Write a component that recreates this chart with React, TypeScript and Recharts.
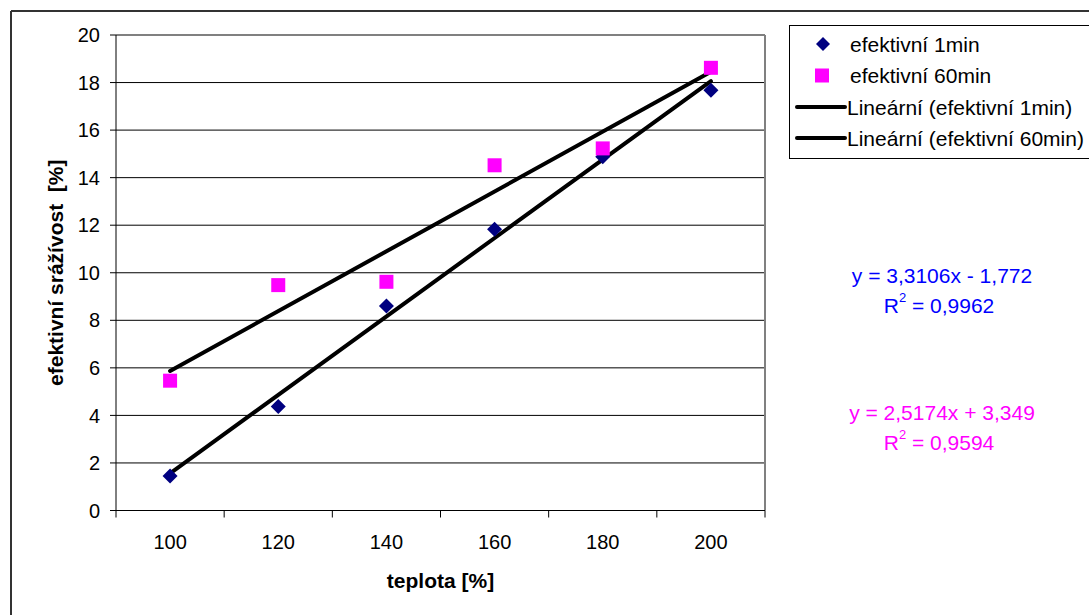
import React from 'react';
import { ComposedChart, Line, XAxis, YAxis, CartesianGrid, ReferenceLine, Legend } from 'recharts';

const CATEGORIES = [100, 120, 140, 160, 180, 200];
const EFF_1MIN = [1.45, 4.37, 8.6, 11.83, 14.88, 17.68];
const EFF_60MIN = [5.46, 9.48, 9.62, 14.52, 15.23, 18.62];
// trend line values read at first and last category
const TREND_1MIN_ENDS = [1.56, 18.06];
const TREND_60MIN_ENDS = [5.87, 18.45];
const Y_TICKS = [0, 2, 4, 6, 8, 10, 12, 14, 16, 18, 20];
const X_DIVIDERS = [90, 110, 130, 150, 170, 190, 210];
const SERIES_NAMES = ['efektivní 1min', 'efektivní 60min', 'Lineární (efektivní 1min)', 'Lineární (efektivní 60min)'];
const EQ_1MIN = ['y = 3,3106x - 1,772', '0,9962'];
const EQ_60MIN = ['y = 2,5174x + 3,349', '0,9594'];
const X_TITLE = 'teplota [%]';
const Y_TITLE = 'efektivní srážívost  [%]';

const FONT = "'Liberation Sans', Arial, sans-serif";
const NAVY = '#000080';
const MAGENTA = '#FF00FF';
const BLUE = '#0000FF';
const TICK_MARGIN = 24;

const data = CATEGORIES.map((t, i) => ({ t, e1: EFF_1MIN[i], e60: EFF_60MIN[i] }));
const trend1 = [
  { t: CATEGORIES[0], v: TREND_1MIN_ENDS[0] },
  { t: CATEGORIES[CATEGORIES.length - 1], v: TREND_1MIN_ENDS[1] },
];
const trend60 = [
  { t: CATEGORIES[0], v: TREND_60MIN_ENDS[0] },
  { t: CATEGORIES[CATEGORIES.length - 1], v: TREND_60MIN_ENDS[1] },
];
const X_ALL_TICKS = [...X_DIVIDERS, ...CATEGORIES].sort((a, b) => a - b);

const Diamond = (p: any) => {
  const { cx, cy, index } = p;
  if (cx == null || cy == null) return <g key={index} />;
  const h = 7.5;
  return (
    <polygon
      key={index}
      points={`${cx},${cy - h} ${cx + h},${cy} ${cx},${cy + h} ${cx - h},${cy}`}
      fill={NAVY}
    />
  );
};

const Square = (p: any) => {
  const { cx, cy, index } = p;
  if (cx == null || cy == null) return <g key={index} />;
  return <rect key={index} x={cx - 7} y={cy - 7} width={14} height={14} fill={MAGENTA} />;
};

const XTick = (p: any) => {
  const { x, y, payload } = p;
  const v = payload.value;
  if (X_DIVIDERS.includes(v)) {
    const top = y - TICK_MARGIN;
    return <line x1={x} x2={x} y1={top} y2={top + 7} stroke="#000" strokeWidth={1} />;
  }
  return (
    <text x={x} y={y} dy="0.71em" textAnchor="middle" fontSize={20} fill="#000" fontFamily={FONT}>
      {v}
    </text>
  );
};

const renderLegend = () => {
  const rows = [19, 50.5, 82, 113];
  const fs = 21;
  return (
    <svg width={330} height={134} style={{ display: 'block', fontFamily: FONT }}>
      <rect x={0.5} y={0.5} width={340} height={133} fill="#fff" stroke="#000" strokeWidth={1} />
      <polygon points={`34,${rows[0] - 7} 41,${rows[0]} 34,${rows[0] + 7} 27,${rows[0]}`} fill={NAVY} />
      <text x={61} y={rows[0]} dominantBaseline="central" fontSize={fs} fill="#000">{SERIES_NAMES[0]}</text>
      <rect x={26} y={rows[1] - 7} width={14} height={14} fill={MAGENTA} />
      <text x={61} y={rows[1]} dominantBaseline="central" fontSize={fs} fill="#000">{SERIES_NAMES[1]}</text>
      <line x1={8} x2={56} y1={rows[2]} y2={rows[2]} stroke="#000" strokeWidth={4} strokeLinecap="round" />
      <text x={58} y={rows[2]} dominantBaseline="central" fontSize={fs} fill="#000">{SERIES_NAMES[2]}</text>
      <line x1={8} x2={56} y1={rows[3]} y2={rows[3]} stroke="#000" strokeWidth={4} strokeLinecap="round" />
      <text x={58} y={rows[3]} dominantBaseline="central" fontSize={fs} fill="#000">{SERIES_NAMES[3]}</text>
    </svg>
  );
};

const XTitle = (props: any) => {
  const vb = props.viewBox || { x: 116, y: 510, width: 649, height: 40 };
  return (
    <text
      x={vb.x + vb.width / 2}
      y={580}
      textAnchor="middle"
      dominantBaseline="central"
      fontSize={21}
      fontWeight="bold"
      fill="#000"
      fontFamily={FONT}
    >
      {X_TITLE}
    </text>
  );
};

const YTitle = (props: any) => {
  const vb = props.viewBox || { x: 56, y: 35, width: 60, height: 475 };
  const cx = 55;
  const cy = vb.y + vb.height / 2;
  return (
    <text
      x={cx}
      y={cy}
      transform={`rotate(-90, ${cx}, ${cy})`}
      textAnchor="middle"
      dominantBaseline="central"
      fontSize={21}
      fontWeight="bold"
      fill="#000"
      fontFamily={FONT}
      style={{ whiteSpace: 'pre' }}
    >
      {Y_TITLE}
    </text>
  );
};

const Equation = ({ lines, color, y }: { lines: string[]; color: string; y: number }) => (
  <g fontFamily={FONT} fontSize={21} fill={color}>
    <text x={942} y={y} textAnchor="middle" dominantBaseline="central">{lines[0]}</text>
    <text x={939} y={y + 30} textAnchor="middle" dominantBaseline="central">
      <tspan>R</tspan>
      <tspan dy={-8} fontSize={13}>2</tspan>
      <tspan dy={8}>{' = ' + lines[1]}</tspan>
    </text>
  </g>
);

export default function App() {
  return (
    <div
      style={{
        position: 'absolute',
        left: 0,
        top: 0,
        width: 1089,
        height: 615,
        overflow: 'hidden',
        background: '#fff',
        fontFamily: FONT,
      }}
    >
      <ComposedChart
        width={1089}
        height={615}
        data={data}
        margin={{ top: 35, right: 324, bottom: 64.5, left: 56 }}
      >
        <CartesianGrid vertical={false} stroke="#000" strokeWidth={1} />
        <XAxis
          type="number"
          dataKey="t"
          domain={[90, 210]}
          ticks={X_ALL_TICKS}
          interval={0}
          tickLine={false}
          axisLine={{ stroke: '#000' }}
          tickSize={0}
          tickMargin={TICK_MARGIN}
          tick={<XTick />}
          height={40}
          allowDataOverflow
          label={<XTitle />}
        />
        <YAxis
          type="number"
          domain={[0, 20]}
          ticks={Y_TICKS}
          interval={0}
          width={60}
          tickSize={6}
          tickMargin={10}
          tickLine={{ stroke: '#000' }}
          axisLine={{ stroke: '#000' }}
          tick={{ fontSize: 20, fill: '#000', fontFamily: FONT }}
          allowDataOverflow
          label={<YTitle />}
        />
        <ReferenceLine y={20} stroke="#808080" strokeWidth={2} />
        <ReferenceLine x={210} stroke="#808080" strokeWidth={2} />
        <Line
          dataKey="e1"
          stroke="none"
          dot={Diamond}
          activeDot={false}
          isAnimationActive={false}
          legendType="none"
        />
        <Line
          dataKey="e60"
          stroke="none"
          dot={Square}
          activeDot={false}
          isAnimationActive={false}
          legendType="none"
        />
        <Line
          data={trend1}
          dataKey="v"
          stroke="#000"
          strokeWidth={4}
          strokeLinecap="round"
          dot={false}
          activeDot={false}
          isAnimationActive={false}
        />
        <Line
          data={trend60}
          dataKey="v"
          stroke="#000"
          strokeWidth={4}
          strokeLinecap="round"
          dot={false}
          activeDot={false}
          isAnimationActive={false}
        />
        <Legend
          layout="vertical"
          align="center"
          verticalAlign="middle"
          content={renderLegend}
          wrapperStyle={{ left: 789, top: 25, width: 330, height: 134 }}
        />
      </ComposedChart>
      <svg
        width={1089}
        height={615}
        style={{ position: 'absolute', left: 0, top: 0, pointerEvents: 'none' }}
      >
        <line x1={11} y1={11} x2={1089} y2={11} stroke="#333" strokeWidth={2} />
        <line x1={11} y1={11} x2={11} y2={615} stroke="#333" strokeWidth={2} />
        <Equation lines={EQ_1MIN} color={BLUE} y={275} />
        <Equation lines={EQ_60MIN} color={MAGENTA} y={412} />
      </svg>
    </div>
  );
}
